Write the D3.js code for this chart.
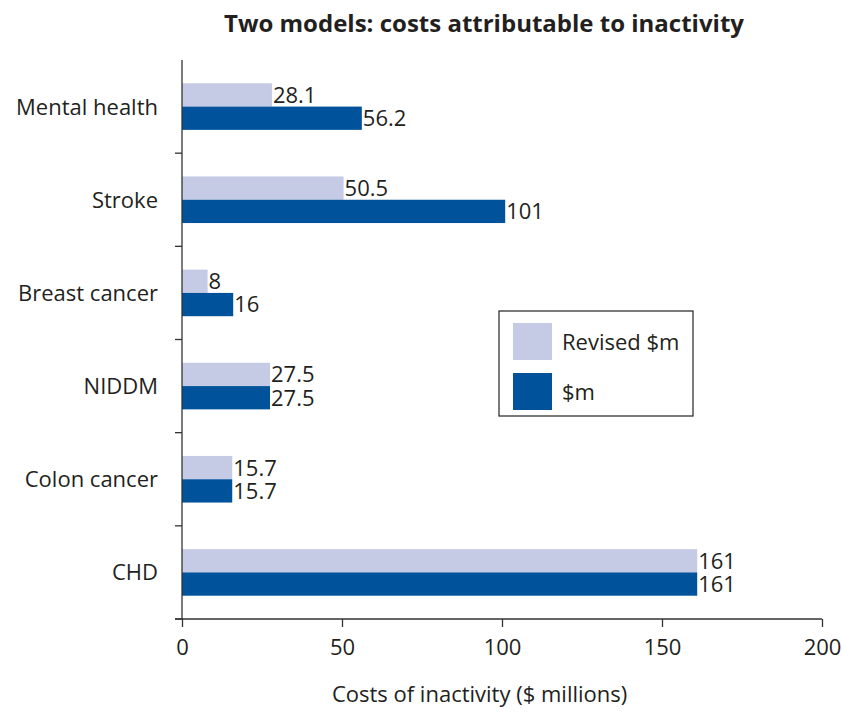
<!DOCTYPE html>
<html>
<head>
<meta charset="utf-8">
<script src="https://cdn.jsdelivr.net/npm/d3@7"></script>
<style>
  body { margin: 0; background: #fff; }
  text { font-family: "Open Sans", "Lato", sans-serif; fill: #231f20; }
</style>
</head>
<body>
<svg width="842" height="715"></svg>
<script>
// data
const categories = ["Mental health", "Stroke", "Breast cancer", "NIDDM", "Colon cancer", "CHD"];
const revised = [28.1, 50.5, 8, 27.5, 15.7, 161];
const original = [56.2, 101, 16, 27.5, 15.7, 161];
const seriesNames = ["Revised $m", "$m"];
const xTicks = [0, 50, 100, 150, 200];

const colors = ["#c5cae5", "#00529b"];

const margin = { top: 60, right: 20, bottom: 96, left: 182 },
  width = 822 - margin.left,
  height = 619 - margin.top;

const svg = d3.select("svg");
const g = svg.append("g").attr("transform", `translate(${margin.left},${margin.top})`);

const x = d3.scaleLinear().domain([0, 200]).range([0, width]);
const y = d3.scaleBand().domain(categories).range([0, height]).paddingInner(0.5).paddingOuter(0.25);
const sub = d3.scaleBand().domain([0, 1]).range([0, y.bandwidth()]);

// title
svg.append("text")
  .attr("x", 484)
  .attr("y", 32)
  .attr("text-anchor", "middle")
  .style("font-size", "24px")
  .style("font-weight", "bold")
  .text("Two models: costs attributable to inactivity");

// bars
const rows = categories.map((c, i) => ({ cat: c, vals: [revised[i], original[i]] }));
const grp = g.selectAll("g.cat").data(rows).enter().append("g")
  .attr("transform", d => `translate(0,${y(d.cat)})`);

grp.selectAll("rect").data(d => d.vals).enter().append("rect")
  .attr("x", 0)
  .attr("y", (d, i) => sub(i))
  .attr("width", d => x(d))
  .attr("height", sub.bandwidth())
  .attr("fill", (d, i) => colors[i]);

grp.selectAll("text.val").data(d => d.vals).enter().append("text")
  .attr("class", "val")
  .attr("x", d => x(d) + 1)
  .attr("y", (d, i) => sub(i) + sub.bandwidth() / 2)
  .attr("dy", "0.36em")
  .style("font-size", "22px")
  .text(d => d);

// category labels
g.selectAll("text.cat").data(categories).enter().append("text")
  .attr("class", "cat")
  .attr("x", -24)
  .attr("y", d => y(d) + y.bandwidth() / 2)
  .attr("dy", "0.36em")
  .attr("text-anchor", "end")
  .style("font-size", "22px")
  .text(d => d);

// y axis line + ticks at band boundaries
const axisColor = "#333";
g.append("line").attr("x1", 0).attr("x2", 0).attr("y1", 0).attr("y2", height)
  .attr("stroke", axisColor).attr("stroke-width", 1.3);
g.selectAll("line.ytick").data(d3.range(1, categories.length + 1)).enter().append("line")
  .attr("x1", -7).attr("x2", 0)
  .attr("y1", i => i * y.step()).attr("y2", i => i * y.step())
  .attr("stroke", axisColor).attr("stroke-width", 1.3);

// x axis
const xAxis = g.append("g")
  .attr("transform", `translate(0,${height})`)
  .call(d3.axisBottom(x).tickValues(xTicks).tickSize(8).tickPadding(12).tickSizeOuter(0));
xAxis.select(".domain").attr("stroke", axisColor).attr("stroke-width", 1.3).attr("d", `M-7,0H${width}`);
xAxis.selectAll(".tick line").attr("stroke", axisColor).attr("stroke-width", 1.3);
xAxis.selectAll(".tick text").style("font-size", "22px").attr("fill", "#231f20")
  .style("font-family", "'Open Sans', Lato, sans-serif");

g.append("text")
  .attr("x", x(93))
  .attr("y", height + 83)
  .attr("text-anchor", "middle")
  .style("font-size", "22px")
  .text("Costs of inactivity ($ millions)");

// legend
const legend = svg.append("g").attr("transform", "translate(499,311)");
legend.append("rect").attr("width", 194).attr("height", 105)
  .attr("fill", "#fff").attr("stroke", axisColor).attr("stroke-width", 1.3);
const li = legend.selectAll("g.item").data(seriesNames).enter().append("g")
  .attr("transform", (d, i) => `translate(14,${12 + i * 50})`);
li.append("rect").attr("width", 39).attr("height", 37).attr("fill", (d, i) => colors[i]);
li.append("text").attr("x", 49).attr("y", 19).attr("dy", "0.36em")
  .style("font-size", "22px").text(d => d);
</script>
</body>
</html>
